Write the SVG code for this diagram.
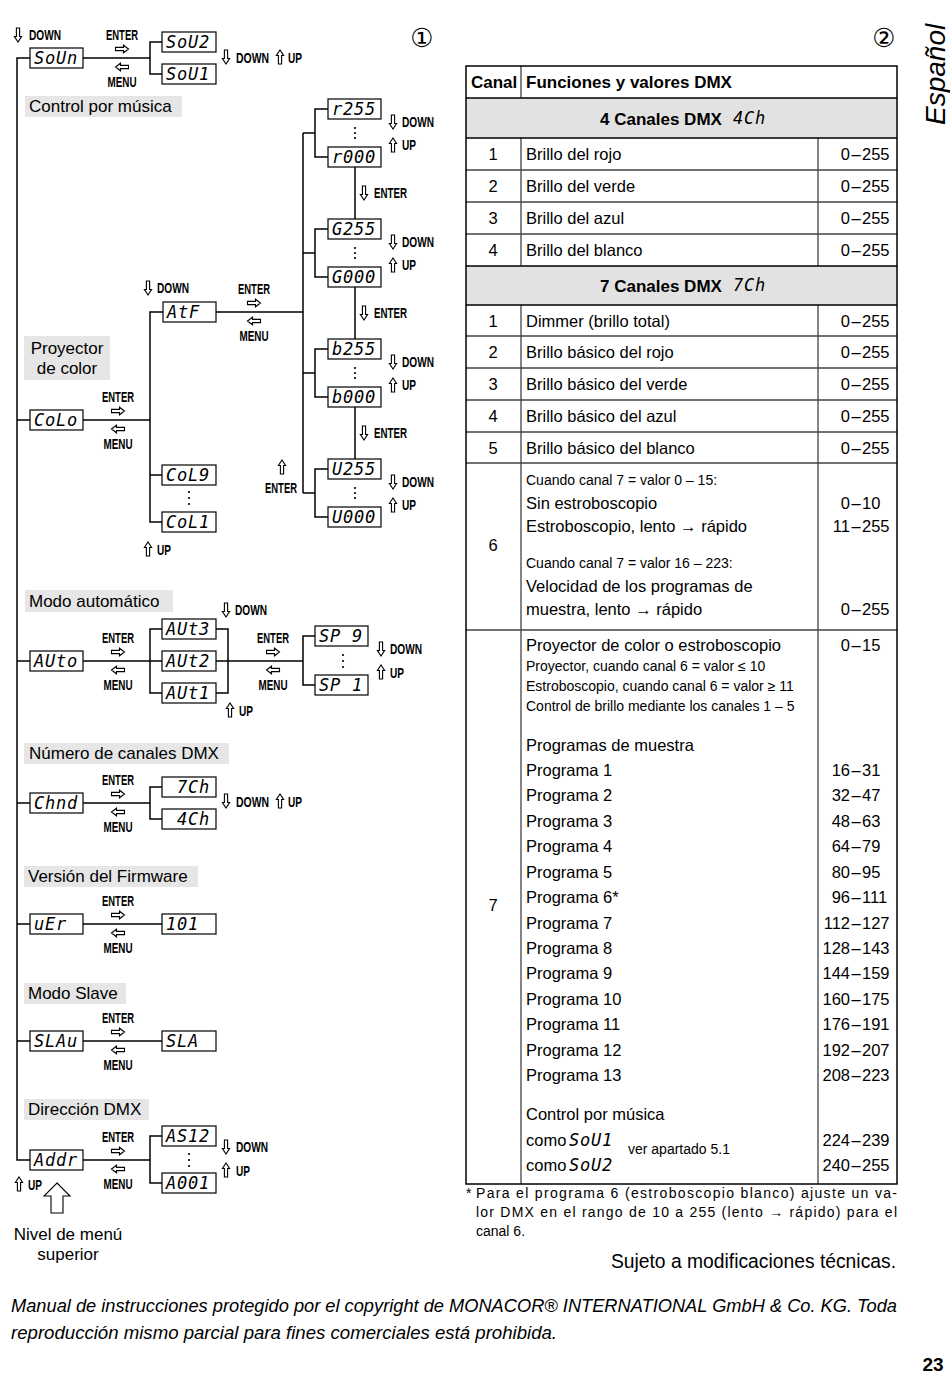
<svg xmlns="http://www.w3.org/2000/svg" width="950" height="1385" viewBox="0 0 950 1385">
<style>
.bx{fill:#fff;stroke:#000;stroke-width:1.2}
.lcd{font-family:"DejaVu Sans Mono",monospace;font-style:oblique;font-size:17px;fill:#000;letter-spacing:0.8px}
.k{font-family:"Liberation Sans",Arial,sans-serif;font-weight:bold;font-size:15.5px;fill:#000}
.lb{fill:#e6e6e6}
.lt{font-family:"Liberation Sans",Arial,sans-serif;font-size:17px;fill:#000}
.ln{fill:none;stroke:#000;stroke-width:1.5}
.t{font-family:"Liberation Sans",Arial,sans-serif;font-size:16.5px;fill:#000}
.s{font-family:"Liberation Sans",Arial,sans-serif;font-size:14px;fill:#000}
.h{font-family:"Liberation Sans",Arial,sans-serif;font-size:17px;font-weight:bold;fill:#000}
.tb{fill:none;stroke:#000;stroke-width:1.5}
.tg{fill:none;stroke:#444;stroke-width:1.3}
.c{text-anchor:middle}
.e{text-anchor:end}
.dot{fill:#000}
.ar{fill:#fff;stroke:#000;stroke-width:1.1}
</style>
<defs>
<path id="aR" class="ar" d="M-6.5,-1.6 H1.5 V-3.8 L6.5,0 L1.5,3.8 V1.6 H-6.5 Z"/>
<path id="aL" class="ar" d="M6.5,-1.6 H-1.5 V-3.8 L-6.5,0 L-1.5,3.8 V1.6 H6.5 Z"/>
<path id="aD" class="ar" d="M-1.6,-7 H1.6 V1.5 H3.6 L0,7 L-3.6,1.5 H-1.6 Z"/>
<path id="aU" class="ar" d="M-1.6,7 H1.6 V-1.5 H3.6 L0,-7 L-3.6,-1.5 H-1.6 Z"/>
</defs>

<!-- circled numbers and language tab -->
<text x="422" y="47" class="c" font-family="DejaVu Sans, sans-serif" font-size="26">①</text>
<text x="884" y="47" class="c" font-family="DejaVu Sans, sans-serif" font-size="26">②</text>
<text transform="translate(945,125) rotate(-90)" font-family="Liberation Sans, Arial, sans-serif" font-style="italic" font-size="28">Español</text>

<!-- section labels -->
<g id="section-labels">
<rect class="lb" x="25" y="96" width="157" height="21"/><text class="lt" x="29" y="112">Control por música</text>
<rect class="lb" x="24" y="336" width="86" height="44"/><text class="lt c" x="67" y="354">Proyector</text><text class="lt c" x="67" y="374">de color</text>
<rect class="lb" x="25" y="590" width="148" height="22"/><text class="lt" x="29" y="607">Modo automático</text>
<rect class="lb" x="24" y="743" width="205" height="21"/><text class="lt" x="29" y="759">Número de canales DMX</text>
<rect class="lb" x="24" y="866" width="174" height="21"/><text class="lt" x="28" y="882">Versión del Firmware</text>
<rect class="lb" x="24" y="983" width="102" height="21"/><text class="lt" x="28" y="999">Modo Slave</text>
<rect class="lb" x="24" y="1099" width="125" height="21"/><text class="lt" x="28" y="1115">Dirección DMX</text>
</g>

<!-- connectors -->
<g id="connectors" class="ln">
<path d="M30,58 H17 V1160 H30"/>
<path d="M17,420 H30 M17,661 H30 M17,803 H30 M17,924 H30 M17,1041 H30"/>
<path d="M83,58 H150 M162,42 H150 V74 H162"/>
<path d="M83,420 H150 M163,312 H150 V522 H162 M150,475 H162"/>
<path d="M216,312 H303 M303,133 V493"/>
<path d="M303,133 H315 M328,109 H315 V157 H328"/>
<path d="M303,253 H315 M328,229 H315 V277 H328"/>
<path d="M303,373 H315 M328,349 H315 V397 H328"/>
<path d="M303,493 H315 M328,469 H315 V517 H328"/>
<path d="M355,167 V219 M355,287 V339 M355,407 V459"/>
<path d="M83,661 H162 M162,629 H150 V693 H162 M216,629 H228 V693 H216 M216,661 H303 M315,636 H303 V685 H315"/>
<path d="M83,803 H150 M162,787 H150 V819 H162"/>
<path d="M83,924 H162"/>
<path d="M83,1041 H162"/>
<path d="M83,1160 H150 M162,1136 H150 V1183 H162"/>
</g>

<!-- nodes -->
<g id="n-soun"><rect class="bx" x="30" y="48" width="53" height="20"/><text class="lcd" x="34" y="64">SoUn</text></g>
<g id="n-sou2"><rect class="bx" x="162" y="32" width="54" height="20"/><text class="lcd" x="166" y="48">SoU2</text></g>
<g id="n-sou1"><rect class="bx" x="162" y="64" width="54" height="20"/><text class="lcd" x="166" y="80">SoU1</text></g>
<g id="n-atf"><rect class="bx" x="163" y="302" width="53" height="20"/><text class="lcd" x="167" y="318">AtF</text></g>
<g id="n-colo"><rect class="bx" x="30" y="410" width="53" height="20"/><text class="lcd" x="34" y="426">CoLo</text></g>
<g id="n-col9"><rect class="bx" x="162" y="465" width="54" height="20"/><text class="lcd" x="166" y="481">CoL9</text></g>
<g id="n-col1"><rect class="bx" x="162" y="512" width="54" height="20"/><text class="lcd" x="166" y="528">CoL1</text></g>
<g id="n-r255"><rect class="bx" x="328" y="99" width="53" height="20"/><text class="lcd" x="332" y="115">r255</text></g>
<g id="n-r000"><rect class="bx" x="328" y="147" width="53" height="20"/><text class="lcd" x="332" y="163">r000</text></g>
<g id="n-g255"><rect class="bx" x="328" y="219" width="53" height="20"/><text class="lcd" x="332" y="235">G255</text></g>
<g id="n-g000"><rect class="bx" x="328" y="267" width="53" height="20"/><text class="lcd" x="332" y="283">G000</text></g>
<g id="n-b255"><rect class="bx" x="328" y="339" width="53" height="20"/><text class="lcd" x="332" y="355">b255</text></g>
<g id="n-b000"><rect class="bx" x="328" y="387" width="53" height="20"/><text class="lcd" x="332" y="403">b000</text></g>
<g id="n-u255"><rect class="bx" x="328" y="459" width="53" height="20"/><text class="lcd" x="332" y="475">U255</text></g>
<g id="n-u000"><rect class="bx" x="328" y="507" width="53" height="20"/><text class="lcd" x="332" y="523">U000</text></g>
<g id="n-auto"><rect class="bx" x="30" y="651" width="53" height="20"/><text class="lcd" x="34" y="667">AUto</text></g>
<g id="n-aut3"><rect class="bx" x="162" y="619" width="54" height="20"/><text class="lcd" x="166" y="635">AUt3</text></g>
<g id="n-aut2"><rect class="bx" x="162" y="651" width="54" height="20"/><text class="lcd" x="166" y="667">AUt2</text></g>
<g id="n-aut1"><rect class="bx" x="162" y="683" width="54" height="20"/><text class="lcd" x="166" y="699">AUt1</text></g>
<g id="n-sp9"><rect class="bx" x="315" y="626" width="53" height="20"/><text class="lcd" x="319" y="642" xml:space="preserve">SP 9</text></g>
<g id="n-sp1"><rect class="bx" x="315" y="675" width="53" height="20"/><text class="lcd" x="319" y="691" xml:space="preserve">SP 1</text></g>
<g id="n-chnd"><rect class="bx" x="30" y="793" width="53" height="20"/><text class="lcd" x="34" y="809">Chnd</text></g>
<g id="n-7ch"><rect class="bx" x="162" y="777" width="54" height="20"/><text class="lcd" x="177" y="793">7Ch</text></g>
<g id="n-4ch"><rect class="bx" x="162" y="809" width="54" height="20"/><text class="lcd" x="177" y="825">4Ch</text></g>
<g id="n-uer"><rect class="bx" x="30" y="914" width="53" height="20"/><text class="lcd" x="34" y="930">uEr</text></g>
<g id="n-101"><rect class="bx" x="162" y="914" width="54" height="20"/><text class="lcd" x="166" y="930">101</text></g>
<g id="n-slau"><rect class="bx" x="30" y="1031" width="53" height="20"/><text class="lcd" x="34" y="1047">SLAu</text></g>
<g id="n-sla"><rect class="bx" x="162" y="1031" width="54" height="20"/><text class="lcd" x="166" y="1047">SLA</text></g>
<g id="n-addr"><rect class="bx" x="30" y="1150" width="53" height="20"/><text class="lcd" x="34" y="1166">Addr</text></g>
<g id="n-as12"><rect class="bx" x="162" y="1126" width="54" height="20"/><text class="lcd" x="166" y="1142">AS12</text></g>
<g id="n-a001"><rect class="bx" x="162" y="1173" width="54" height="20"/><text class="lcd" x="166" y="1189">A001</text></g>

<!-- vertical dots -->
<g id="dots" class="dot">
<circle cx="355" cy="128" r="1.1"/><circle cx="355" cy="133" r="1.1"/><circle cx="355" cy="138" r="1.1"/>
<circle cx="355" cy="248" r="1.1"/><circle cx="355" cy="253" r="1.1"/><circle cx="355" cy="258" r="1.1"/>
<circle cx="355" cy="368" r="1.1"/><circle cx="355" cy="373" r="1.1"/><circle cx="355" cy="378" r="1.1"/>
<circle cx="355" cy="488" r="1.1"/><circle cx="355" cy="493" r="1.1"/><circle cx="355" cy="498" r="1.1"/>
<circle cx="189" cy="492" r="1.1"/><circle cx="189" cy="498" r="1.1"/><circle cx="189" cy="504" r="1.1"/>
<circle cx="343" cy="655" r="1.1"/><circle cx="343" cy="661" r="1.1"/><circle cx="343" cy="667" r="1.1"/>
<circle cx="189" cy="1154" r="1.1"/><circle cx="189" cy="1160" r="1.1"/><circle cx="189" cy="1166" r="1.1"/>
</g>

<!-- key labels -->
<g id="key-labels">
<text class="k c" x="122" y="40" textLength="32" lengthAdjust="spacingAndGlyphs">ENTER</text><use href="#aR" x="122" y="49"/><use href="#aL" x="122" y="67"/><text class="k c" x="122" y="87" textLength="29" lengthAdjust="spacingAndGlyphs">MENU</text>
<text class="k c" x="118" y="402" textLength="32" lengthAdjust="spacingAndGlyphs">ENTER</text><use href="#aR" x="118" y="411"/><use href="#aL" x="118" y="429"/><text class="k c" x="118" y="449" textLength="29" lengthAdjust="spacingAndGlyphs">MENU</text>
<text class="k c" x="254" y="294" textLength="32" lengthAdjust="spacingAndGlyphs">ENTER</text><use href="#aR" x="254" y="303"/><use href="#aL" x="254" y="321"/><text class="k c" x="254" y="341" textLength="29" lengthAdjust="spacingAndGlyphs">MENU</text>
<text class="k c" x="118" y="643" textLength="32" lengthAdjust="spacingAndGlyphs">ENTER</text><use href="#aR" x="118" y="652"/><use href="#aL" x="118" y="670"/><text class="k c" x="118" y="690" textLength="29" lengthAdjust="spacingAndGlyphs">MENU</text>
<text class="k c" x="273" y="643" textLength="32" lengthAdjust="spacingAndGlyphs">ENTER</text><use href="#aR" x="273" y="652"/><use href="#aL" x="273" y="670"/><text class="k c" x="273" y="690" textLength="29" lengthAdjust="spacingAndGlyphs">MENU</text>
<text class="k c" x="118" y="785" textLength="32" lengthAdjust="spacingAndGlyphs">ENTER</text><use href="#aR" x="118" y="794"/><use href="#aL" x="118" y="812"/><text class="k c" x="118" y="832" textLength="29" lengthAdjust="spacingAndGlyphs">MENU</text>
<text class="k c" x="118" y="906" textLength="32" lengthAdjust="spacingAndGlyphs">ENTER</text><use href="#aR" x="118" y="915"/><use href="#aL" x="118" y="933"/><text class="k c" x="118" y="953" textLength="29" lengthAdjust="spacingAndGlyphs">MENU</text>
<text class="k c" x="118" y="1023" textLength="32" lengthAdjust="spacingAndGlyphs">ENTER</text><use href="#aR" x="118" y="1032"/><use href="#aL" x="118" y="1050"/><text class="k c" x="118" y="1070" textLength="29" lengthAdjust="spacingAndGlyphs">MENU</text>
<text class="k c" x="118" y="1142" textLength="32" lengthAdjust="spacingAndGlyphs">ENTER</text><use href="#aR" x="118" y="1151"/><use href="#aL" x="118" y="1169"/><text class="k c" x="118" y="1189" textLength="29" lengthAdjust="spacingAndGlyphs">MENU</text>
<use href="#aD" x="18" y="35"/><text class="k" x="29" y="40" textLength="32" lengthAdjust="spacingAndGlyphs">DOWN</text>
<use href="#aD" x="226" y="57"/><text class="k" x="236" y="63" textLength="33" lengthAdjust="spacingAndGlyphs">DOWN</text><use href="#aU" x="280" y="57"/><text class="k" x="288" y="63" textLength="14" lengthAdjust="spacingAndGlyphs">UP</text>
<use href="#aD" x="393" y="122"/><text class="k" x="402" y="127" textLength="32" lengthAdjust="spacingAndGlyphs">DOWN</text><use href="#aU" x="393" y="145"/><text class="k" x="402" y="150" textLength="14" lengthAdjust="spacingAndGlyphs">UP</text>
<use href="#aD" x="393" y="242"/><text class="k" x="402" y="247" textLength="32" lengthAdjust="spacingAndGlyphs">DOWN</text><use href="#aU" x="393" y="265"/><text class="k" x="402" y="270" textLength="14" lengthAdjust="spacingAndGlyphs">UP</text>
<use href="#aD" x="393" y="362"/><text class="k" x="402" y="367" textLength="32" lengthAdjust="spacingAndGlyphs">DOWN</text><use href="#aU" x="393" y="385"/><text class="k" x="402" y="390" textLength="14" lengthAdjust="spacingAndGlyphs">UP</text>
<use href="#aD" x="393" y="482"/><text class="k" x="402" y="487" textLength="32" lengthAdjust="spacingAndGlyphs">DOWN</text><use href="#aU" x="393" y="505"/><text class="k" x="402" y="510" textLength="14" lengthAdjust="spacingAndGlyphs">UP</text>
<use href="#aD" x="364" y="193"/><text class="k" x="374" y="198" textLength="33" lengthAdjust="spacingAndGlyphs">ENTER</text>
<use href="#aD" x="364" y="313"/><text class="k" x="374" y="318" textLength="33" lengthAdjust="spacingAndGlyphs">ENTER</text>
<use href="#aD" x="364" y="433"/><text class="k" x="374" y="438" textLength="33" lengthAdjust="spacingAndGlyphs">ENTER</text>
<use href="#aU" x="282" y="467"/><text class="k c" x="281" y="493" textLength="32" lengthAdjust="spacingAndGlyphs">ENTER</text>
<use href="#aD" x="148" y="288"/><text class="k" x="157" y="293" textLength="32" lengthAdjust="spacingAndGlyphs">DOWN</text>
<use href="#aU" x="148" y="549"/><text class="k" x="157" y="555" textLength="14" lengthAdjust="spacingAndGlyphs">UP</text>
<use href="#aD" x="226" y="610"/><text class="k" x="235" y="615" textLength="32" lengthAdjust="spacingAndGlyphs">DOWN</text>
<use href="#aU" x="230" y="710"/><text class="k" x="239" y="716" textLength="14" lengthAdjust="spacingAndGlyphs">UP</text>
<use href="#aD" x="381" y="649"/><text class="k" x="390" y="654" textLength="32" lengthAdjust="spacingAndGlyphs">DOWN</text>
<use href="#aU" x="381" y="672"/><text class="k" x="390" y="678" textLength="14" lengthAdjust="spacingAndGlyphs">UP</text>
<use href="#aD" x="226" y="801"/><text class="k" x="236" y="807" textLength="33" lengthAdjust="spacingAndGlyphs">DOWN</text><use href="#aU" x="280" y="801"/><text class="k" x="288" y="807" textLength="14" lengthAdjust="spacingAndGlyphs">UP</text>
<use href="#aD" x="226" y="1147"/><text class="k" x="236" y="1152" textLength="32" lengthAdjust="spacingAndGlyphs">DOWN</text>
<use href="#aU" x="226" y="1170"/><text class="k" x="236" y="1176" textLength="14" lengthAdjust="spacingAndGlyphs">UP</text>
<use href="#aU" x="19" y="1184"/><text class="k" x="28" y="1190" textLength="14" lengthAdjust="spacingAndGlyphs">UP</text>
</g>

<!-- top level pointer -->
<g id="n-top-level">
<path class="ar" stroke-width="1.3" d="M57,1183 L70,1196 H63 V1213 H51 V1196 H44 Z"/>
<text class="lt c" x="68" y="1240">Nivel de menú</text>
<text class="lt c" x="68" y="1260">superior</text>
</g>

<!-- table -->
<g id="table">
<rect x="466" y="98" width="431" height="40" fill="#e2e2e2"/>
<rect x="466" y="266" width="431" height="39" fill="#e2e2e2"/>
<path class="tg" d="M466,170 H897 M466,202 H897 M466,234 H897 M466,336 H897 M466,368 H897 M466,400 H897 M466,432 H897 M466,463 H897 M466,630 H897"/>
<path class="tg" d="M521,66 V98 M521,138 V266 M521,305 V1184 M818,138 V266 M818,305 V1184"/>
<path class="tb" d="M466,98 H897 M466,138 H897 M466,266 H897 M466,305 H897"/>
<rect class="tb" x="466" y="66" width="431" height="1118"/>

<text class="h" x="471" y="88">Canal</text>
<text class="h" x="526" y="88">Funciones y valores DMX</text>
<text class="h" x="600" y="125">4 Canales DMX</text><text class="lcd" x="733" y="124" font-size="15">4Ch</text>
<text class="h" x="600" y="292">7 Canales DMX</text><text class="lcd" x="733" y="291" font-size="15">7Ch</text>

<text class="t c" x="493" y="160">1</text><text class="t" x="526" y="160">Brillo del rojo</text>
<text class="t c" x="493" y="192">2</text><text class="t" x="526" y="192">Brillo del verde</text>
<text class="t c" x="493" y="224">3</text><text class="t" x="526" y="224">Brillo del azul</text>
<text class="t c" x="493" y="256">4</text><text class="t" x="526" y="256">Brillo del blanco</text>
<text class="t c" x="493" y="327">1</text><text class="t" x="526" y="327">Dimmer (brillo total)</text>
<text class="t c" x="493" y="358">2</text><text class="t" x="526" y="358">Brillo básico del rojo</text>
<text class="t c" x="493" y="390">3</text><text class="t" x="526" y="390">Brillo básico del verde</text>
<text class="t c" x="493" y="422">4</text><text class="t" x="526" y="422">Brillo básico del azul</text>
<text class="t c" x="493" y="454">5</text><text class="t" x="526" y="454">Brillo básico del blanco</text>

<text class="t c" x="493" y="551">6</text>
<text class="s" x="526" y="485">Cuando canal 7 = valor 0 – 15:</text>
<text class="t" x="526" y="509">Sin estroboscopio</text>
<text class="t" x="526" y="532">Estroboscopio, lento → rápido</text>
<text class="s" x="526" y="568">Cuando canal 7 = valor 16 – 223:</text>
<text class="t" x="526" y="592">Velocidad de los programas de</text>
<text class="t" x="526" y="615">muestra, lento → rápido</text>

<text class="t c" x="493" y="911">7</text>
<text class="t" x="526" y="651">Proyector de color o estroboscopio</text>
<text class="s" x="526" y="671">Proyector, cuando canal 6 = valor ≤ 10</text>
<text class="s" x="526" y="691">Estroboscopio, cuando canal 6 = valor ≥ 11</text>
<text class="s" x="526" y="711">Control de brillo mediante los canales 1 – 5</text>
<text class="t" x="526" y="751">Programas de muestra</text>
<text class="t" x="526" y="776">Programa 1</text>
<text class="t" x="526" y="801.4">Programa 2</text>
<text class="t" x="526" y="826.8">Programa 3</text>
<text class="t" x="526" y="852.3">Programa 4</text>
<text class="t" x="526" y="877.7">Programa 5</text>
<text class="t" x="526" y="903.1">Programa 6*</text>
<text class="t" x="526" y="928.5">Programa 7</text>
<text class="t" x="526" y="953.9">Programa 8</text>
<text class="t" x="526" y="979.4">Programa 9</text>
<text class="t" x="526" y="1004.8">Programa 10</text>
<text class="t" x="526" y="1030.2">Programa 11</text>
<text class="t" x="526" y="1055.6">Programa 12</text>
<text class="t" x="526" y="1081">Programa 13</text>
<text class="t" x="526" y="1120">Control por música</text>
<text class="t" x="526" y="1146">como</text><text class="lcd" x="569" y="1146" font-size="16">SoU1</text>
<text class="t" x="526" y="1171">como</text><text class="lcd" x="569" y="1171" font-size="16">SoU2</text>
<text class="s" x="628" y="1154">ver apartado 5.1</text>

<g class="t">
<text y="160"><tspan x="850" text-anchor="end">0</tspan><tspan x="856" text-anchor="middle">–</tspan><tspan x="862">255</tspan></text>
<text y="192"><tspan x="850" text-anchor="end">0</tspan><tspan x="856" text-anchor="middle">–</tspan><tspan x="862">255</tspan></text>
<text y="224"><tspan x="850" text-anchor="end">0</tspan><tspan x="856" text-anchor="middle">–</tspan><tspan x="862">255</tspan></text>
<text y="256"><tspan x="850" text-anchor="end">0</tspan><tspan x="856" text-anchor="middle">–</tspan><tspan x="862">255</tspan></text>
<text y="327"><tspan x="850" text-anchor="end">0</tspan><tspan x="856" text-anchor="middle">–</tspan><tspan x="862">255</tspan></text>
<text y="358"><tspan x="850" text-anchor="end">0</tspan><tspan x="856" text-anchor="middle">–</tspan><tspan x="862">255</tspan></text>
<text y="390"><tspan x="850" text-anchor="end">0</tspan><tspan x="856" text-anchor="middle">–</tspan><tspan x="862">255</tspan></text>
<text y="422"><tspan x="850" text-anchor="end">0</tspan><tspan x="856" text-anchor="middle">–</tspan><tspan x="862">255</tspan></text>
<text y="454"><tspan x="850" text-anchor="end">0</tspan><tspan x="856" text-anchor="middle">–</tspan><tspan x="862">255</tspan></text>
<text y="509"><tspan x="850" text-anchor="end">0</tspan><tspan x="856" text-anchor="middle">–</tspan><tspan x="862">10</tspan></text>
<text y="532"><tspan x="850" text-anchor="end">11</tspan><tspan x="856" text-anchor="middle">–</tspan><tspan x="862">255</tspan></text>
<text y="615"><tspan x="850" text-anchor="end">0</tspan><tspan x="856" text-anchor="middle">–</tspan><tspan x="862">255</tspan></text>
<text y="651"><tspan x="850" text-anchor="end">0</tspan><tspan x="856" text-anchor="middle">–</tspan><tspan x="862">15</tspan></text>
<text y="776"><tspan x="850" text-anchor="end">16</tspan><tspan x="856" text-anchor="middle">–</tspan><tspan x="862">31</tspan></text>
<text y="801.4"><tspan x="850" text-anchor="end">32</tspan><tspan x="856" text-anchor="middle">–</tspan><tspan x="862">47</tspan></text>
<text y="826.8"><tspan x="850" text-anchor="end">48</tspan><tspan x="856" text-anchor="middle">–</tspan><tspan x="862">63</tspan></text>
<text y="852.3"><tspan x="850" text-anchor="end">64</tspan><tspan x="856" text-anchor="middle">–</tspan><tspan x="862">79</tspan></text>
<text y="877.7"><tspan x="850" text-anchor="end">80</tspan><tspan x="856" text-anchor="middle">–</tspan><tspan x="862">95</tspan></text>
<text y="903.1"><tspan x="850" text-anchor="end">96</tspan><tspan x="856" text-anchor="middle">–</tspan><tspan x="862">111</tspan></text>
<text y="928.5"><tspan x="850" text-anchor="end">112</tspan><tspan x="856" text-anchor="middle">–</tspan><tspan x="862">127</tspan></text>
<text y="953.9"><tspan x="850" text-anchor="end">128</tspan><tspan x="856" text-anchor="middle">–</tspan><tspan x="862">143</tspan></text>
<text y="979.4"><tspan x="850" text-anchor="end">144</tspan><tspan x="856" text-anchor="middle">–</tspan><tspan x="862">159</tspan></text>
<text y="1004.8"><tspan x="850" text-anchor="end">160</tspan><tspan x="856" text-anchor="middle">–</tspan><tspan x="862">175</tspan></text>
<text y="1030.2"><tspan x="850" text-anchor="end">176</tspan><tspan x="856" text-anchor="middle">–</tspan><tspan x="862">191</tspan></text>
<text y="1055.6"><tspan x="850" text-anchor="end">192</tspan><tspan x="856" text-anchor="middle">–</tspan><tspan x="862">207</tspan></text>
<text y="1081"><tspan x="850" text-anchor="end">208</tspan><tspan x="856" text-anchor="middle">–</tspan><tspan x="862">223</tspan></text>
<text y="1146"><tspan x="850" text-anchor="end">224</tspan><tspan x="856" text-anchor="middle">–</tspan><tspan x="862">239</tspan></text>
<text y="1171"><tspan x="850" text-anchor="end">240</tspan><tspan x="856" text-anchor="middle">–</tspan><tspan x="862">255</tspan></text>
</g>
</g>

<!-- footnote and footer -->
<g id="notes">
<text class="s" x="466" y="1198" font-size="14.5">*</text>
<text class="s" x="476" y="1198" font-size="14.5" textLength="421" lengthAdjust="spacing">Para el programa 6 (estroboscopio blanco) ajuste un va-</text>
<text class="s" x="476" y="1217" font-size="14.5" textLength="421" lengthAdjust="spacing">lor DMX en el rango de 10 a 255 (lento → rápido) para el</text>
<text class="s" x="476" y="1236" font-size="14.5">canal 6.</text>
<text class="e" x="896" y="1268" font-family="Liberation Sans, Arial, sans-serif" font-size="19.3">Sujeto a modificaciones técnicas.</text>
<text x="11" y="1312" font-family="Liberation Sans, Arial, sans-serif" font-style="italic" font-size="17.5" textLength="886" lengthAdjust="spacingAndGlyphs">Manual de instrucciones protegido por el copyright de MONACOR® INTERNATIONAL GmbH &amp; Co. KG. Toda</text>
<text x="11" y="1339" font-family="Liberation Sans, Arial, sans-serif" font-style="italic" font-size="17.5" textLength="546" lengthAdjust="spacingAndGlyphs">reproducción mismo parcial para fines comerciales está prohibida.</text>
<text class="c" x="933" y="1371" font-family="Liberation Sans, Arial, sans-serif" font-weight="bold" font-size="19">23</text>
</g>
</svg>
